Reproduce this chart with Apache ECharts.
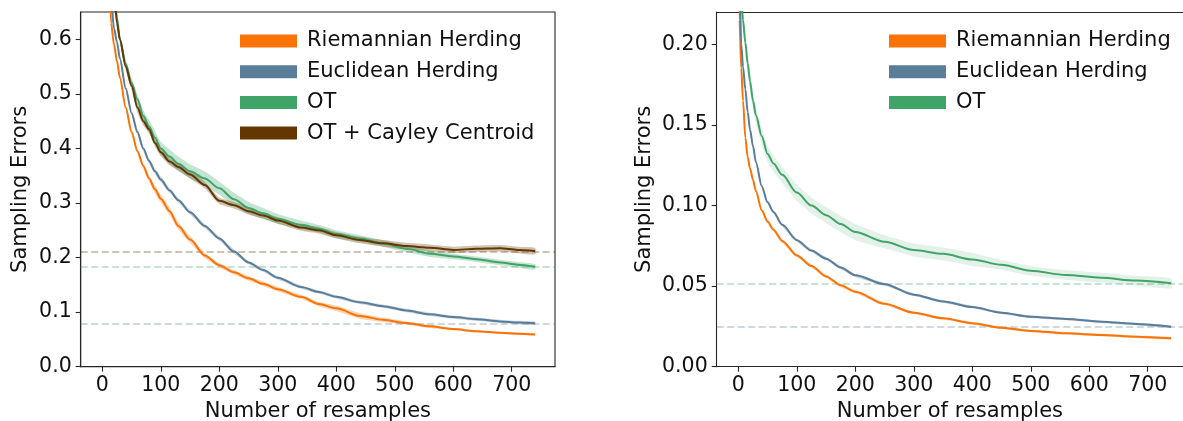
<!DOCTYPE html>
<html>
<head>
<meta charset="utf-8">
<script src="https://cdn.jsdelivr.net/npm/echarts@6/dist/echarts.min.js"></script>
<style>
html,body{margin:0;padding:0;background:#fff;overflow:hidden;}
#chart{width:1183px;height:421px;}
</style>
</head>
<body>
<div id="chart"></div>
<script>
// ---------- DATA ----------
const SERIES_NAMES = ['Riemannian Herding', 'Euclidean Herding', 'OT', 'OT + Cayley Centroid'];
const X_TICKS = [0, 100, 200, 300, 400, 500, 600, 700];
const Y_TICKS_LEFT = [0, 0.1, 0.2, 0.3, 0.4, 0.5, 0.6];
const Y_TICKS_RIGHT = [0, 0.05, 0.10, 0.15, 0.20];

// Left panel
const xLeft = [5, 10, 15, 20, 25, 30, 40, 50, 60, 70, 80, 90, 100, 115, 130, 150, 175, 200, 225, 250, 275, 300, 340, 370, 400, 440, 480, 520, 560, 600, 640, 680, 710, 740];
const riemLeft = [1.0, 0.76, 0.63, 0.59, 0.56, 0.53, 0.475, 0.43, 0.395, 0.368, 0.345, 0.325, 0.308, 0.285, 0.258, 0.233, 0.204, 0.186, 0.173, 0.162, 0.152, 0.142, 0.128, 0.115, 0.107, 0.093, 0.086, 0.08, 0.074, 0.069, 0.065, 0.062, 0.0605, 0.059];
const euclLeft = [1.05, 0.8, 0.67, 0.62, 0.595, 0.565, 0.51, 0.465, 0.43, 0.4, 0.377, 0.358, 0.343, 0.323, 0.305, 0.283, 0.258, 0.235, 0.211, 0.191, 0.177, 0.163, 0.146, 0.137, 0.128, 0.118, 0.111, 0.103, 0.096, 0.091, 0.087, 0.083, 0.081, 0.0795];
const otLeft = [1.1, 0.9, 0.76, 0.7, 0.64, 0.6, 0.555, 0.52, 0.49, 0.46, 0.44, 0.42, 0.4, 0.385, 0.372, 0.358, 0.345, 0.327, 0.307, 0.291, 0.281, 0.271, 0.26, 0.253, 0.243, 0.235, 0.226, 0.216, 0.207, 0.202, 0.197, 0.191, 0.187, 0.183];
const cayleyLeft = [1.1, 0.9, 0.75, 0.69, 0.63, 0.6, 0.55, 0.515, 0.475, 0.45, 0.435, 0.41, 0.393, 0.376, 0.366, 0.352, 0.333, 0.304, 0.296, 0.285, 0.277, 0.268, 0.255, 0.25, 0.241, 0.232, 0.226, 0.221, 0.218, 0.214, 0.216, 0.217, 0.214, 0.212];
// band half-widths (read from shaded regions)
const riemLeftBand = [0.005, 0.005, 0.005, 0.005, 0.005, 0.005, 0.005, 0.005, 0.005, 0.005, 0.006, 0.007, 0.007, 0.007, 0.007, 0.006, 0.005, 0.004, 0.004, 0.004, 0.004, 0.004, 0.004, 0.004, 0.005, 0.005, 0.004, 0.003, 0.003, 0.002, 0.002, 0.002, 0.002, 0.002];
const euclLeftBand = [0.005, 0.005, 0.005, 0.005, 0.005, 0.005, 0.005, 0.005, 0.005, 0.005, 0.005, 0.005, 0.005, 0.004, 0.004, 0.004, 0.004, 0.004, 0.004, 0.003, 0.003, 0.003, 0.003, 0.003, 0.003, 0.003, 0.003, 0.003, 0.003, 0.003, 0.003, 0.003, 0.003, 0.003];
const otLeftBand = [0.008, 0.008, 0.008, 0.008, 0.008, 0.008, 0.008, 0.009, 0.009, 0.01, 0.012, 0.012, 0.012, 0.013, 0.013, 0.013, 0.013, 0.012, 0.012, 0.011, 0.01, 0.009, 0.008, 0.007, 0.007, 0.006, 0.006, 0.006, 0.006, 0.005, 0.005, 0.005, 0.005, 0.005];
const cayleyLeftBand = [0.007, 0.007, 0.007, 0.007, 0.007, 0.007, 0.007, 0.008, 0.009, 0.008, 0.007, 0.007, 0.007, 0.007, 0.007, 0.007, 0.006, 0.006, 0.006, 0.006, 0.006, 0.006, 0.006, 0.006, 0.006, 0.006, 0.006, 0.006, 0.006, 0.006, 0.006, 0.006, 0.006, 0.006];
const refLeft = [null, 0.079, 0.184, 0.21]; // dashed reference levels (Riem none, Eucl, OT, Cayley)

// Right panel
const xRight = [0, 2, 5, 8, 12, 16, 20, 25, 30, 40, 50, 60, 75, 100, 125, 150, 175, 200, 250, 300, 350, 400, 450, 500, 560, 620, 680, 740];
const riemRight = [0.26, 0.215, 0.185, 0.165, 0.142, 0.13, 0.123, 0.116, 0.109, 0.097, 0.09, 0.085, 0.078, 0.069, 0.0625, 0.056, 0.0505, 0.0465, 0.039, 0.0335, 0.03, 0.027, 0.0242, 0.0222, 0.0207, 0.0197, 0.0186, 0.0176];
const euclRight = [0.28, 0.24, 0.2, 0.186, 0.172, 0.158, 0.147, 0.137, 0.127, 0.112, 0.102, 0.096, 0.088, 0.0785, 0.072, 0.067, 0.0615, 0.0567, 0.0512, 0.0447, 0.0405, 0.037, 0.0335, 0.031, 0.0296, 0.0279, 0.0265, 0.0248];
const otRight = [0.3, 0.26, 0.23, 0.215, 0.201, 0.188, 0.177, 0.165, 0.156, 0.143, 0.132, 0.126, 0.119, 0.108, 0.1, 0.094, 0.0885, 0.0835, 0.0775, 0.0724, 0.07, 0.0665, 0.0632, 0.0595, 0.0569, 0.0552, 0.0534, 0.0517];
const riemRightBand = [0.001, 0.001, 0.001, 0.001, 0.001, 0.001, 0.001, 0.001, 0.001, 0.001, 0.001, 0.001, 0.001, 0.001, 0.001, 0.001, 0.001, 0.001, 0.0008, 0.0008, 0.0008, 0.0008, 0.0008, 0.0008, 0.0008, 0.0008, 0.0008, 0.0008];
const euclRightBand = [0.001, 0.001, 0.001, 0.001, 0.001, 0.001, 0.001, 0.001, 0.001, 0.001, 0.001, 0.001, 0.001, 0.001, 0.001, 0.001, 0.001, 0.001, 0.0008, 0.0008, 0.0008, 0.0008, 0.0008, 0.0008, 0.0008, 0.0008, 0.0008, 0.0008];
const otRightBand = [0.006, 0.006, 0.006, 0.006, 0.006, 0.006, 0.006, 0.005, 0.005, 0.005, 0.005, 0.005, 0.005, 0.005, 0.005, 0.005, 0.005, 0.005, 0.004, 0.004, 0.004, 0.004, 0.003, 0.003, 0.003, 0.003, 0.003, 0.003];
const refRight = [null, 0.0248, 0.0517];

// ---------- STYLE ----------
const COLORS = ['#f97306', '#5a7d9a', '#40a368', '#653700'];
const FONT = 'DejaVu Sans';
const AXIS_COLOR = '#262626';
const TICK_FS = 20.5;
const NAME_FS = 21;
const LEGEND_FS = 21;

function band(xs, ys, ws, color, gridIdx, alpha) {
  const data = xs.map((x, i) => [x, ys[i] - ws[i], ys[i] + ws[i]]);
  return {
    type: 'custom', xAxisIndex: gridIdx, yAxisIndex: gridIdx, clip: true, silent: true,
    data: data, encode: { x: 0, y: [1, 2] }, z: 1,
    renderItem: function (params, api) {
      if (params.dataIndex !== 0) return;
      const pts = [];
      for (let i = 0; i < data.length; i++) pts.push(api.coord([data[i][0], data[i][1]]));
      for (let i = data.length - 1; i >= 0; i--) pts.push(api.coord([data[i][0], data[i][2]]));
      const cs = params.coordSys;
      return {
        type: 'group',
        clipPath: { type: 'rect', shape: { x: cs.x, y: cs.y, width: cs.width, height: cs.height } },
        children: [{ type: 'polygon', shape: { points: pts, smooth: 0.2 }, style: { fill: color, opacity: alpha } }]
      };
    }
  };
}

function line(name, xs, ys, color, gridIdx, ref) {
  const s = {
    type: 'line', name: name, xAxisIndex: gridIdx, yAxisIndex: gridIdx,
    data: xs.map((x, i) => [x, ys[i]]), showSymbol: false, symbol: 'none',
    smooth: 0.3, smoothMonotone: 'x', clip: true, z: 3,
    lineStyle: { color: color, width: 2 }, itemStyle: { color: color }
  };
  if (ref != null) {
    s.markLine = {
      silent: true, symbol: 'none', precision: 5, label: { show: false }, z: 2,
      lineStyle: { color: color, opacity: 0.4, width: 1.5, type: [7, 3.5] },
      data: [{ yAxis: ref }]
    };
  }
  return s;
}

function xAxis(gridIdx, max) {
  return {
    type: 'value', gridIndex: gridIdx, min: -37, max: max,
    splitLine: { show: false },
    axisLine: { show: true, onZero: false, lineStyle: { color: AXIS_COLOR, width: 1.1 } },
    axisTick: { show: true, length: 5, customValues: X_TICKS, lineStyle: { color: AXIS_COLOR, width: 1.1 } },
    axisLabel: { customValues: X_TICKS, margin: 8, color: '#111', fontFamily: FONT, fontSize: TICK_FS },
    name: 'Number of resamples', nameLocation: 'middle', nameGap: 34,
    nameTextStyle: { color: '#111', fontFamily: FONT, fontSize: NAME_FS }
  };
}
function yAxis(gridIdx, max, ticks, digits, nameGap) {
  return {
    type: 'value', gridIndex: gridIdx, min: 0, max: max,
    splitLine: { show: false },
    axisLine: { show: true, onZero: false, lineStyle: { color: AXIS_COLOR, width: 1.1 } },
    axisTick: { show: true, length: 5, customValues: ticks, lineStyle: { color: AXIS_COLOR, width: 1.1 } },
    axisLabel: { customValues: ticks, margin: 9, color: '#111', fontFamily: FONT, fontSize: TICK_FS,
      formatter: v => Number(v).toFixed(digits) },
    name: 'Sampling Errors', nameLocation: 'middle', nameGap: nameGap,
    nameTextStyle: { color: '#111', fontFamily: FONT, fontSize: NAME_FS }
  };
}

const series = [];
const leftYs = [riemLeft, euclLeft, otLeft, cayleyLeft];
const leftBands = [riemLeftBand, euclLeftBand, otLeftBand, cayleyLeftBand];
for (let k = 0; k < 4; k++) series.push(band(xLeft, leftYs[k], leftBands[k], COLORS[k], 0, 0.3));
for (let k = 0; k < 4; k++) series.push(line(SERIES_NAMES[k], xLeft, leftYs[k], COLORS[k], 0, refLeft[k]));
const rightYs = [riemRight, euclRight, otRight];
const rightBands = [riemRightBand, euclRightBand, otRightBand];
for (let k = 0; k < 3; k++) series.push(band(xRight, rightYs[k], rightBands[k], COLORS[k], 1, k === 2 ? 0.15 : 0.3));
for (let k = 0; k < 3; k++) series.push(line(SERIES_NAMES[k], xRight, rightYs[k], COLORS[k], 1, refRight[k]));

const legendCommon = {
  orient: 'vertical', itemWidth: 57, itemHeight: 13, itemGap: 8.7, icon: 'rect', padding: 0,
  textStyle: { fontFamily: FONT, fontSize: LEGEND_FS, color: '#111', lineHeight: 22, padding: [0, 0, 0, 5] },
  selectedMode: false
};

const gridCommon = { borderColor: AXIS_COLOR, borderWidth: 1.1, backgroundColor: 'transparent', containLabel: false, outerBoundsMode: 'none' };

// right panel: its right edge lies past the picture; keep the px-per-unit scale of the left panel
const RIGHT_LEFT = 716.7, RIGHT_W = 1183 - 716.7;
const LEFT_W = 474.3, X_MIN = -37, X_MAX_LEFT = 774;
const X_MAX_RIGHT = X_MIN + RIGHT_W * (X_MAX_LEFT - X_MIN) / LEFT_W;

const topAxis = {
  type: 'value', gridIndex: 1, position: 'top', min: X_MIN, max: X_MAX_RIGHT,
  splitLine: { show: false }, axisTick: { show: false }, axisLabel: { show: false },
  axisLine: { show: true, onZero: false, lineStyle: { color: AXIS_COLOR, width: 1.1 } }
};

const chart = echarts.init(document.getElementById('chart'), null, { renderer: 'canvas' });
chart.setOption({
  animation: false,
  backgroundColor: '#fff',
  grid: [
    Object.assign({ left: 80.7, top: 12, width: LEFT_W, height: 354.7, show: true }, gridCommon),
    Object.assign({ left: RIGHT_LEFT, top: 12, width: RIGHT_W, height: 354.7, show: false }, gridCommon)
  ],
  xAxis: [xAxis(0, X_MAX_LEFT), xAxis(1, X_MAX_RIGHT), topAxis],
  yAxis: [yAxis(0, 0.65, Y_TICKS_LEFT, 1, 50), yAxis(1, 0.22, Y_TICKS_RIGHT, 2, 62)],
  legend: [
    Object.assign({ left: 240, top: 30, data: SERIES_NAMES.slice(0, 4) }, legendCommon),
    Object.assign({ left: 889, top: 30, data: SERIES_NAMES.slice(0, 3) }, legendCommon)
  ],
  series: series
});
</script>
</body>
</html>
